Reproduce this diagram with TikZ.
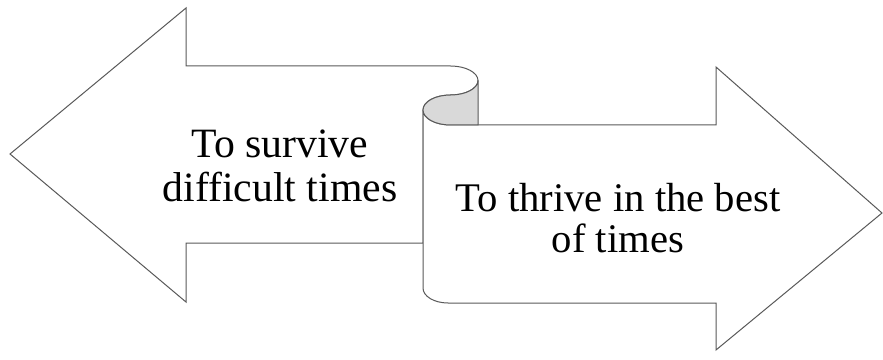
\documentclass[tikz,border=0pt]{standalone}
\usepackage{fontspec}
\setmainfont{Liberation Serif}
\usetikzlibrary{positioning}

\begin{document}
\begin{tikzpicture}[
        x=0.75pt, y=-0.75pt,
        line join=miter,
        outline/.style={draw=black!65, line width=0.75pt},
        every node/.style={align=center, inner sep=0pt}
    ]
    \useasboundingbox (0,0) rectangle (883,360);
    % left arrow, its top edge rolls over into the scroll
    \filldraw[outline, fill=white] (10,154) -- (186,8) -- (186,66) -- (450.5,66)
        .. controls (465.7,66) and (478,72.5) .. (478,80.5)
        .. controls (478,88.5) and (465.7,95) .. (450.5,95)
        .. controls (435.3,95) and (423,101.7) .. (423,110)
        -- (423,243) -- (186,243) -- (186,302) -- cycle;
    % right arrow
    \filldraw[outline, fill=white] (423,110)
        .. controls (423,118.3) and (435.3,125) .. (450.5,125)
        -- (716,125) -- (716,67) -- (882,213) -- (716,350) -- (716,303) -- (448,303)
        .. controls (434.2,303) and (423,296.3) .. (423,288) -- cycle;
    % underside of the roll
    \filldraw[outline, fill=black!15] (478,80.5)
        .. controls (478,88.5) and (465.7,95) .. (450.5,95)
        .. controls (435.3,95) and (423,101.7) .. (423,110)
        .. controls (423,118.3) and (435.3,125) .. (450.5,125)
        -- (478,125) -- cycle;
    \node[font=\fontsize{31.3}{33}\selectfont] (survive) at (280,166) {To survive\\difficult times};
    \node[font=\fontsize{30.5}{30.75}\selectfont] (thrive) at (618,218.5) {To thrive in the best\\of times};
\end{tikzpicture}
\end{document}
